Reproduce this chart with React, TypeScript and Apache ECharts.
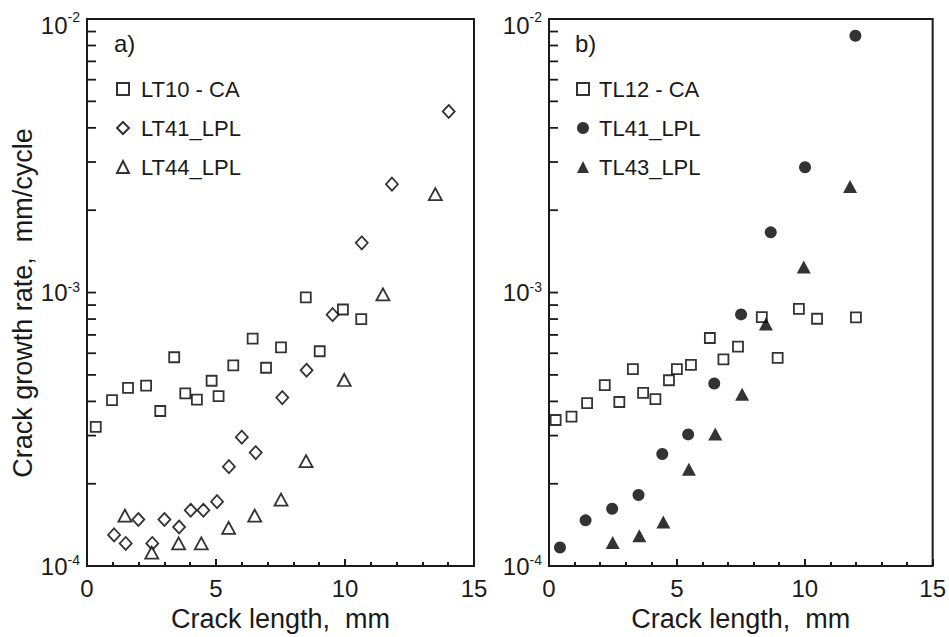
import React, { useEffect, useRef } from "react";
import * as echarts from "echarts";

// Panel a)
const lt10X = [0.34, 0.97, 1.59, 2.29, 2.84, 3.38, 3.81, 4.26, 4.83, 5.1, 5.67, 6.42, 6.94, 7.52, 8.48, 9.02, 9.92, 10.63];
const lt10Y = [3.23e-4, 4.04e-4, 4.48e-4, 4.57e-4, 3.69e-4, 5.8e-4, 4.28e-4, 4.06e-4, 4.76e-4, 4.18e-4, 5.42e-4, 6.79e-4, 5.31e-4, 6.3e-4, 9.6e-4, 6.1e-4, 8.67e-4, 8.0e-4];
const lt41X = [1.05, 1.5, 1.99, 2.53, 3.0, 3.57, 4.02, 4.51, 5.04, 5.5, 6.0, 6.54, 7.57, 8.51, 9.52, 10.65, 11.82, 14.02];
const lt41Y = [1.3e-4, 1.21e-4, 1.48e-4, 1.21e-4, 1.48e-4, 1.39e-4, 1.6e-4, 1.6e-4, 1.72e-4, 2.31e-4, 2.96e-4, 2.6e-4, 4.13e-4, 5.2e-4, 8.3e-4, 1.52e-3, 2.49e-3, 4.59e-3];
const lt44X = [1.47, 2.51, 3.55, 4.43, 5.49, 6.5, 7.52, 8.49, 9.97, 11.47, 13.5];
const lt44Y = [1.53e-4, 1.12e-4, 1.21e-4, 1.21e-4, 1.38e-4, 1.53e-4, 1.75e-4, 2.42e-4, 4.79e-4, 9.84e-4, 2.29e-3];

// Panel b)
const tl12X = [0.26, 0.88, 1.49, 2.18, 2.75, 3.28, 3.68, 4.16, 4.69, 5.0, 5.55, 6.29, 6.82, 7.39, 8.32, 8.94, 9.77, 10.48, 12.0];
const tl12Y = [3.42e-4, 3.52e-4, 3.94e-4, 4.59e-4, 3.98e-4, 5.25e-4, 4.3e-4, 4.08e-4, 4.78e-4, 5.25e-4, 5.44e-4, 6.82e-4, 5.7e-4, 6.34e-4, 8.13e-4, 5.77e-4, 8.71e-4, 8.02e-4, 8.11e-4];
const tl41X = [0.43, 1.43, 2.47, 3.5, 4.43, 5.44, 6.46, 7.51, 8.67, 10.01, 11.98];
const tl41Y = [1.17e-4, 1.47e-4, 1.62e-4, 1.82e-4, 2.57e-4, 3.03e-4, 4.65e-4, 8.32e-4, 1.66e-3, 2.87e-3, 8.69e-3];
const tl43X = [2.49, 3.53, 4.47, 5.47, 6.5, 7.55, 8.48, 9.96, 11.77];
const tl43Y = [1.22e-4, 1.29e-4, 1.45e-4, 2.26e-4, 3.04e-4, 4.25e-4, 7.68e-4, 1.24e-3, 2.44e-3];

const namesA = ["LT10 - CA", "LT41_LPL", "LT44_LPL"];
const namesB = ["TL12 - CA", "TL41_LPL", "TL43_LPL"];
const panelLabels = ["a)", "b)"];
const xTitle = "Crack length,  mm";
const yTitle = "Crack growth rate,  mm/cycle";
const yMajor = [1e-4, 1e-3, 1e-2];
const yTickValues: number[] = [];
for (let d = -4; d < -2; d++) {
  for (let k = 1; k <= 9; k++) yTickValues.push(k * Math.pow(10, d));
}
yTickValues.push(1e-2);

const FONT = 'Arial, "Liberation Sans", Helvetica, sans-serif';
const INK = "#1a1a1a";
const MARK = "#000000";

const zip = (xs: number[], ys: number[]) => xs.map((x, i) => [x, ys[i]]);

export default function App() {
  const ref = useRef<HTMLDivElement>(null);
  useEffect(() => {
    if (!ref.current) return;
    const chart = echarts.init(ref.current, null, { renderer: "svg" });
    const gridW = 387;
    const gridH = 558;
    const grids = [
      { left: 87, top: 19, width: gridW, height: gridH },
      { left: 549, top: 19, width: gridW, height: gridH },
    ];
    const xAxis = grids.map((_, i) => ({
      type: "value",
      gridIndex: i,
      min: 0,
      max: 15,
      interval: 5,
      axisLine: { show: false },
      axisTick: { show: true, inside: true, length: 7, lineStyle: { color: INK, width: 2 } },
      minorTick: { show: true, splitNumber: 5, length: 4, lineStyle: { color: INK, width: 2 } },
      splitLine: { show: false },
      axisLabel: { color: INK, fontSize: 24, fontFamily: FONT, margin: 10 },
      name: xTitle,
      nameLocation: "middle",
      nameGap: 33,
      nameTextStyle: { color: INK, fontSize: 27, fontFamily: FONT },
    }));
    const yAxis = grids.map((_, i) => ({
      type: "log",
      logBase: 10,
      gridIndex: i,
      min: 1e-4,
      max: 1e-2,
      axisLine: { show: false },
      axisTick: { show: false },
      splitLine: { show: false },
      axisLabel: {
        customValues: yMajor,
        margin: 7,
        formatter: (v: number) => {
          const e = Math.round(Math.log10(v));
          return e === -2 ? `{t|10}{ts|${e}}` : `{b|10}{s|${e}}`;
        },
        rich: {
          b: { fontSize: 24, fontFamily: FONT, color: INK },
          s: { fontSize: 14, fontFamily: FONT, color: INK, padding: [0, 0, 12, 0] },
          t: { fontSize: 24, fontFamily: FONT, color: INK, padding: [12, 0, 0, 0] },
          ts: { fontSize: 14, fontFamily: FONT, color: INK, padding: [8, 0, 12, 0] },
        },
      },
    }));

    const hollow = { color: "#ffffff", borderColor: MARK, borderWidth: 1.8 };
    const filled = { color: MARK, borderWidth: 0 };

    const series = [
      { name: namesA[0], type: "scatter", xAxisIndex: 0, yAxisIndex: 0, symbol: "rect", symbolSize: 10, itemStyle: hollow, data: zip(lt10X, lt10Y) },
      { name: namesA[1], type: "scatter", xAxisIndex: 0, yAxisIndex: 0, symbol: "diamond", symbolSize: [12, 13], itemStyle: hollow, data: zip(lt41X, lt41Y) },
      { name: namesA[2], type: "scatter", xAxisIndex: 0, yAxisIndex: 0, symbol: "triangle", symbolSize: [13, 12], itemStyle: hollow, data: zip(lt44X, lt44Y) },
      { name: namesB[0], type: "scatter", xAxisIndex: 1, yAxisIndex: 1, symbol: "rect", symbolSize: 10, itemStyle: hollow, data: zip(tl12X, tl12Y) },
      { name: namesB[1], type: "scatter", xAxisIndex: 1, yAxisIndex: 1, symbol: "circle", symbolSize: 12, itemStyle: filled, data: zip(tl41X, tl41Y) },
      { name: namesB[2], type: "scatter", xAxisIndex: 1, yAxisIndex: 1, symbol: "triangle", symbolSize: [14, 13], itemStyle: filled, data: zip(tl43X, tl43Y) },
    ];

    const legendBase = {
      orient: "vertical",
      top: 72,
      itemWidth: 12,
      itemHeight: 12,
      itemGap: 15,
      selectedMode: false,
    };
    const legendText = (pad: number) => ({ color: INK, fontSize: 22, fontFamily: FONT, lineHeight: 24, padding: [0, 0, 0, pad] });

    chart.setOption({
      animation: false,
      backgroundColor: "#ffffff",
      grid: grids.map((g) => ({ ...g, show: true, borderColor: INK, borderWidth: 2 })),
      xAxis,
      yAxis,
      legend: [
        { ...legendBase, left: 111, data: namesA, textStyle: legendText(7) },
        { ...legendBase, left: 571, data: namesB, textStyle: legendText(5) },
      ],
      series,
    });

    // log-axis ticks (1..9 per decade), positioned by the chart's own log scale
    const tickLines: any[] = [];
    grids.forEach((_, i) => {
      yTickValues.forEach((v) => {
        const p = chart.convertToPixel({ gridIndex: i }, [0, v]) as number[];
        if (!p || !isFinite(p[0]) || !isFinite(p[1])) return;
        tickLines.push({
          type: "line",
          silent: true,
          z: 10,
          shape: { x1: p[0] + 1, y1: p[1], x2: p[0] + 9, y2: p[1] },
          style: { stroke: INK, lineWidth: 1.8 },
        });
      });
    });

    chart.setOption({
      graphic: [
        ...tickLines,
        { type: "text", left: 114, top: 31, style: { text: panelLabels[0], font: `24px ${FONT}`, fill: INK } },
        { type: "text", left: 575, top: 31, style: { text: panelLabels[1], font: `24px ${FONT}`, fill: INK } },
        {
          type: "text",
          x: 23,
          y: 303,
          rotation: Math.PI / 2,
          style: { text: yTitle, font: `27px ${FONT}`, fill: INK, align: "center", verticalAlign: "middle" },
        },
      ],
    });
    return () => chart.dispose();
  }, []);
  return (
    <div
      ref={ref}
      style={{ position: "absolute", left: 0, top: 0, width: 949, height: 637, background: "#fff" }}
    />
  );
}
